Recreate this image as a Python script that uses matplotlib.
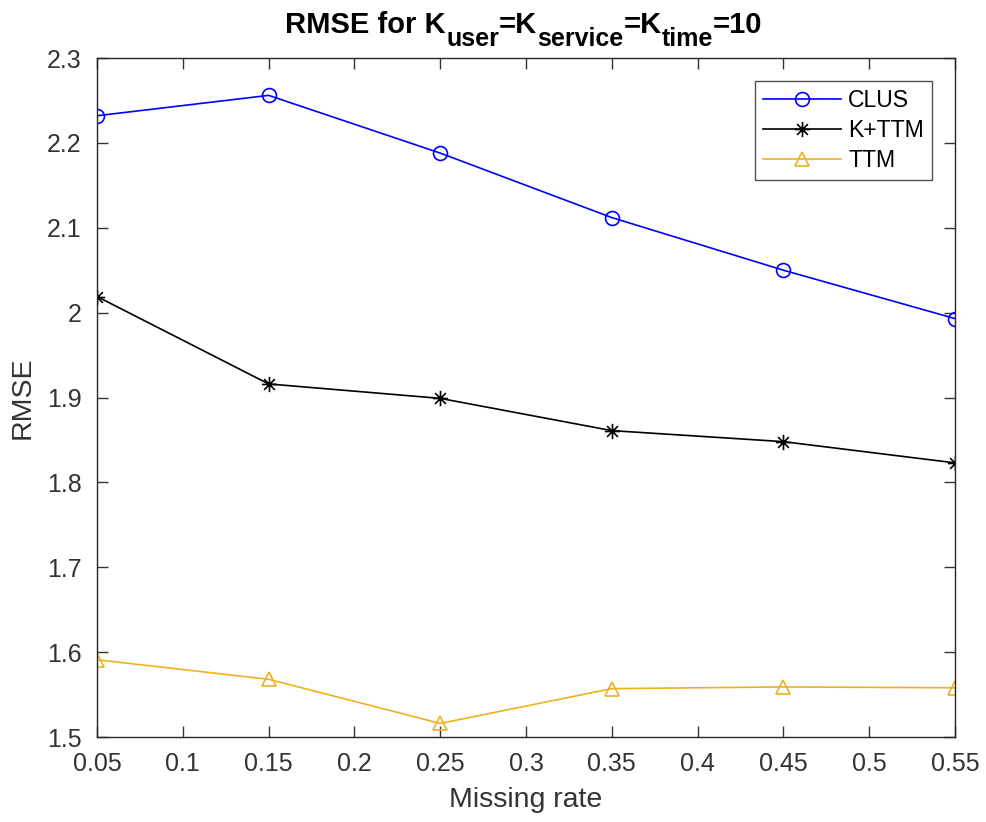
import matplotlib.pyplot as plt
from matplotlib.path import Path

missing_rate = [0.05, 0.15, 0.25, 0.35, 0.45, 0.55]
clus = [2.232, 2.256, 2.188, 2.112, 2.050, 1.993]
k_ttm = [2.019, 1.916, 1.899, 1.861, 1.848, 1.823]
ttm = [1.591, 1.568, 1.516, 1.557, 1.559, 1.558]

xtick_vals = [0.05, 0.1, 0.15, 0.2, 0.25, 0.3, 0.35, 0.4, 0.45, 0.5, 0.55]
xtick_labels = ['0.05', '0.1', '0.15', '0.2', '0.25', '0.3', '0.35', '0.4', '0.45', '0.5', '0.55']
ytick_vals = [1.5, 1.6, 1.7, 1.8, 1.9, 2.0, 2.1, 2.2, 2.3]
ytick_labels = ['1.5', '1.6', '1.7', '1.8', '1.9', '2', '2.1', '2.2', '2.3']

plt.rcParams['font.family'] = ['Liberation Sans', 'DejaVu Sans']

# 8-armed asterisk marker
d = 0.7071
asterisk = Path(
    [(0, -1), (0, 1), (-1, 0), (1, 0), (-d, -d), (d, d), (-d, d), (d, -d)],
    [Path.MOVETO, Path.LINETO] * 4,
)

fig = plt.figure(figsize=(9.87, 8.22), dpi=100)
ax = fig.add_axes([0.0983, 0.1034, 0.8693, 0.826])

ax.plot(missing_rate, clus, color='#0000ff', marker='o', markersize=10,
        markerfacecolor='none', markeredgewidth=1.2, linewidth=1.2, label='CLUS')
ax.plot(missing_rate, k_ttm, color='black', marker=asterisk, markersize=11,
        markeredgewidth=1.2, linewidth=1.2, label='K+TTM')
ax.plot(missing_rate, ttm, color='#EDB120', marker='^', markersize=10,
        markerfacecolor='none', markeredgewidth=1.2, linewidth=1.2, label='TTM')

ax.set_xlim(0.05, 0.55)
ax.set_ylim(1.5, 2.3)
ax.set_xticks(xtick_vals)
ax.set_xticklabels(xtick_labels)
ax.set_yticks(ytick_vals)
ax.set_yticklabels(ytick_labels)
ax.tick_params(direction='in', top=True, right=True, length=8, width=1,
               labelsize=18, colors='#333333', pad=11)
for s in ax.spines.values():
    s.set_color('#262626')
    s.set_linewidth(1)

ax.set_xlabel('Missing rate', fontsize=20.5, color='#333333', labelpad=8)
ax.set_ylabel('RMSE', fontsize=20.5, color='#333333', labelpad=8)

leg = ax.legend(loc='upper right', bbox_to_anchor=(0.973, 0.966), borderaxespad=0,
                fontsize=16.6, fancybox=False, edgecolor='#262626', handlelength=3.4,
                handletextpad=0.3, borderpad=0.35, labelspacing=0.3)
leg.get_frame().set_linewidth(1)

# title with large bold subscripts, laid out piece by piece
pieces = [('RMSE for K', 21, 0), ('user', 18, -13), ('=K', 21, 0), ('service', 18, -13),
          ('=K', 21, 0), ('time', 18, -13), ('=10', 21, 0)]
fig.canvas.draw()
renderer = fig.canvas.get_renderer()
W, H = fig.bbox.width, fig.bbox.height
texts = []
total = 0
for s, size, dy in pieces:
    t = fig.text(0, 0, s, fontsize=size, fontweight='bold', va='baseline', ha='left')
    w = t.get_window_extent(renderer).width
    texts.append((t, w, dy))
    total += w
x = 524 - total / 2
base = H - 33
for t, w, dy in texts:
    t.set_position((x / W, (base + dy) / H))
    x += w

fig.savefig('out.png', dpi=100)
